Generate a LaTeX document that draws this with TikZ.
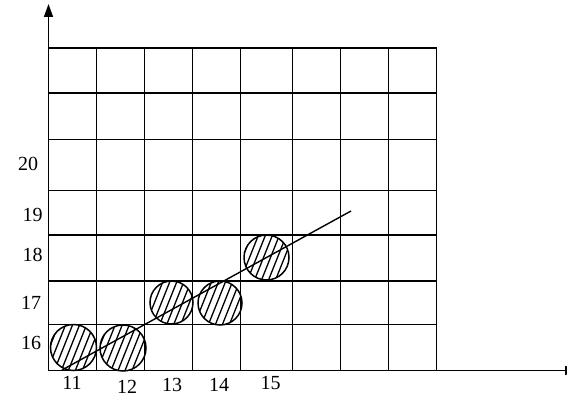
\documentclass[tikz,border=0pt]{standalone}
\usepackage{fontspec}
\setmainfont{Liberation Serif}
\usetikzlibrary{arrows.meta}
\tikzset{
  gridline/.style={line width=1.5pt},
  axisline/.style={line width=1.5pt,-{Triangle[width=9pt,length=13pt]}},
  hatched/.style={circle,draw,line width=1.5pt,inner sep=0pt,minimum size=#1,
    path picture={
      \foreach \t in {-31,-24,...,31}
        \draw[line width=1.3pt,shift={(path picture bounding box.center)}] (\t-12,30) -- (\t+12,-30);
    }},
  lab/.style={font=\fontsize{20}{24}\selectfont,inner sep=0pt},
  fitline/.style={line width=1.4pt}
}
\begin{document}
\begin{tikzpicture}[x=1pt,y=-1pt]
\useasboundingbox (0,0) rectangle (567,396);
% grid
\foreach \x in {48.5,96.5,144.5,192.5,240.5,292.5,340.5,388.5,436.5}
  \draw[gridline] (\x,48) -- (\x,370.5);
\foreach \y in {48,93,139.5,190.5,235,281,324.5}
  \draw[gridline] (48.5,\y) -- (436.5,\y);
% axes
\coordinate (O) at (48.5,370.5);
\coordinate (Ytop) at (48.5,4);
\coordinate (Xend) at (578,370.5);
\draw[axisline] (O) -- (Ytop);
\draw[axisline] (O) -- (Xend);
% circles
\node[hatched=46pt] (c1) at (73.5,347.5) {};
\node[hatched=46pt] (c2) at (123,348) {};
\node[hatched=43pt] (c3) at (171.5,302.5) {};
\node[hatched=44pt] (c4) at (220,303) {};
\node[hatched=45pt] (c5) at (266.5,257.5) {};
% fit line
\coordinate (L1) at (62,370);
\coordinate (L2) at (351,211);
\draw[fitline] (L1) -- (L2);
% y labels
\node[lab] (y20) at (28,163.5) {20};
\node[lab] (y19) at (32.5,215) {19};
\node[lab] (y18) at (32.5,255) {18};
\node[lab] (y17) at (31,303) {17};
\node[lab] (y16) at (31,343) {16};
% x labels
\node[lab] (x11) at (72,383) {11};
\node[lab] (x12) at (127,386.5) {12};
\node[lab] (x13) at (172,385) {13};
\node[lab] (x14) at (219,385) {14};
\node[lab] (x15) at (270.5,383) {15};
\end{tikzpicture}
\end{document}
